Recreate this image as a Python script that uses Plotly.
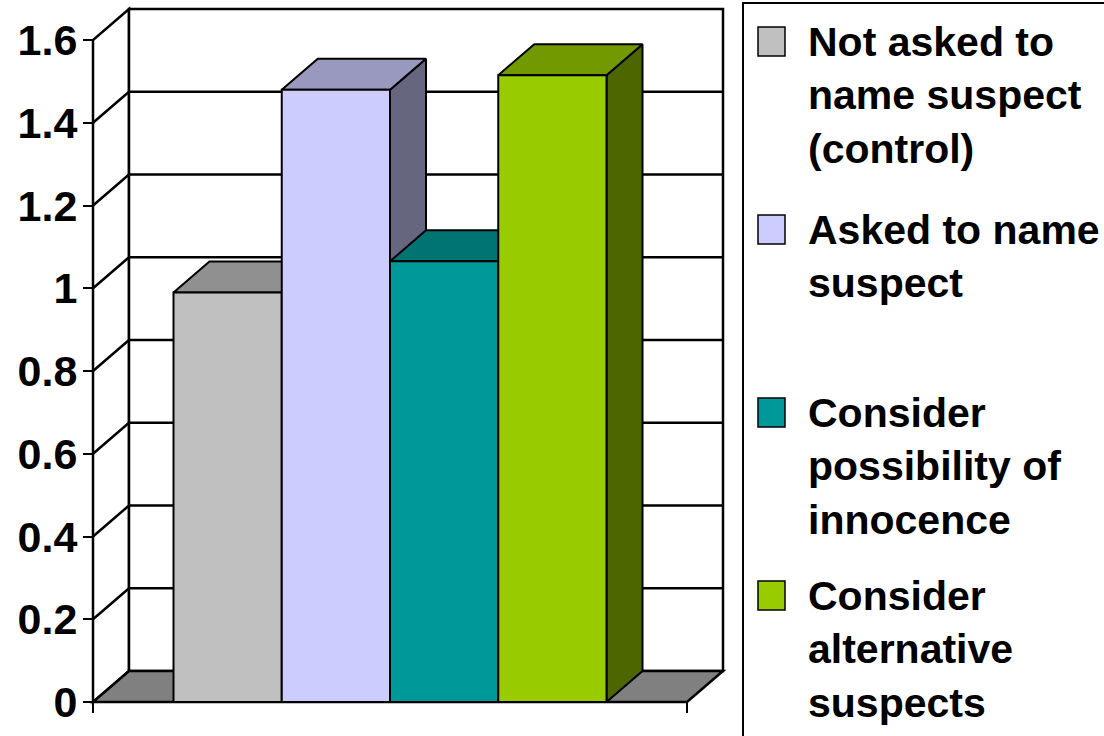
import plotly.graph_objects as go

# ---------------- data ----------------
series_names = [
    "Not asked to name suspect (control)",
    "Asked to name suspect",
    "Consider possibility of innocence",
    "Consider alternative suspects",
]
legend_labels = [
    "Not asked to<br>name suspect<br>(control)",
    "Asked to name<br>suspect",
    "Consider<br>possibility of<br>innocence",
    "Consider<br>alternative<br>suspects",
]
values = [0.99, 1.48, 1.065, 1.515]
tick_vals = [0, 0.2, 0.4, 0.6, 0.8, 1.0, 1.2, 1.4, 1.6]
tick_text = ["0", "0.2", "0.4", "0.6", "0.8", "1", "1.2", "1.4", "1.6"]

front_colors = ["#C0C0C0", "#CCCCFF", "#009999", "#99CC00"]
top_colors = ["#909090", "#9999BF", "#007373", "#739900"]
side_colors = ["#606060", "#666680", "#004D4D", "#4D6600"]

# ---------------- layout geometry ----------------
W, H = 1104, 736
ML, MR, MT, MB = 78, 370, 0, 20
PW, PH = W - ML - MR, H - MT - MB
SX = 594.0      # px per category unit (front plane)
SY = 413.75     # px per value unit
FX, FY = 93, 702  # pixel of front-left corner (x=-0.5, y=0)
DX = 36 / SX    # depth offset in x units
DY = 31 / SY    # depth offset in y units
YMAX = tick_vals[-1]

x_range = [-0.5 - (FX - ML) / SX, -0.5 + (ML + PW - FX) / SX]
y_range = [-(MT + PH - FY) / SY, (FY - MT) / SY]


def px(xp):
    return (xp - ML) / PW


def py(yp):
    return (MT + PH - yp) / PH


LINE = dict(color="black", width=2.5)

shapes = []
# left side wall
shapes.append(dict(type="path", xref="x", yref="y", layer="below",
                   path=f"M {-0.5},{0} L {-0.5+DX},{DY} L {-0.5+DX},{YMAX+DY} L {-0.5},{YMAX} Z",
                   fillcolor="white", line=LINE))
# back wall
shapes.append(dict(type="rect", xref="x", yref="y", layer="below",
                   x0=-0.5 + DX, y0=DY, x1=0.5 + DX, y1=YMAX + DY,
                   fillcolor="white", line=LINE))
# gridlines
for v in tick_vals[1:-1]:
    shapes.append(dict(type="path", xref="x", yref="y", layer="below",
                       path=f"M {-0.5},{v} L {-0.5+DX},{v+DY} L {0.5+DX},{v+DY}",
                       line=LINE))
# floor
shapes.append(dict(type="path", xref="x", yref="y", layer="below",
                   path=f"M {-0.5},{0} L {0.5},{0} L {0.5+DX},{DY} L {-0.5+DX},{DY} Z",
                   fillcolor="#808080", line=LINE))

fig = go.Figure()

# bars (front, top, side faces), drawn left to right
n = len(values)
BW = 108.25 / SX
for i, v in enumerate(values):
    xl = -n * BW / 2 + i * BW
    xr = xl + BW
    faces = [
        ([xr, xr + DX, xr + DX, xr, xr], [0, DY, v + DY, v, 0], side_colors[i]),
        ([xl, xr, xr + DX, xl + DX, xl], [v, v, v + DY, v + DY, v], top_colors[i]),
        ([xl, xr, xr, xl, xl], [0, 0, v, v, 0], front_colors[i]),
    ]
    for fx, fy, col in faces:
        fig.add_trace(go.Scatter(
            x=fx, y=fy, mode="lines", fill="toself", fillcolor=col,
            line=dict(color="black", width=2), name=series_names[i],
            hoverinfo="text", text=f"{series_names[i]}: {v}", showlegend=False))

# legend (manual)
shapes.append(dict(type="rect", xref="paper", yref="paper",
                   x0=px(743), x1=px(1112), y0=py(3), y1=py(745),
                   line=dict(color="black", width=2), fillcolor="rgba(0,0,0,0)"))
cap_tops = [26, 214, 397, 580]
annotations = []
for i, lab in enumerate(legend_labels):
    ct = cap_tops[i]
    shapes.append(dict(type="rect", xref="paper", yref="paper",
                       x0=px(758), x1=px(785), y0=py(ct + 1), y1=py(ct + 30),
                       fillcolor=front_colors[i], line=dict(color="black", width=1.5)))
    annotations.append(dict(xref="paper", yref="paper", x=px(806), y=py(ct - 9),
                            xanchor="left", yanchor="top", align="left",
                            text=lab, showarrow=False,
                            font=dict(family="Liberation Sans, Arial", size=41,
                                      color="black", weight="bold")))

fig.update_layout(
    width=W, height=H,
    margin=dict(l=ML, r=MR, t=MT, b=MB),
    paper_bgcolor="white", plot_bgcolor="white",
    showlegend=False,
    shapes=shapes,
    annotations=annotations,
    xaxis=dict(range=x_range, showgrid=False, zeroline=False, showline=False,
               tickvals=[-0.5, 0.5], ticks="outside", ticklen=10, tickwidth=2,
               tickcolor="black", showticklabels=False,
               anchor="free", position=(MT + PH - FY) / PH),
    yaxis=dict(range=y_range, showgrid=False, zeroline=False, showline=False,
               tickvals=tick_vals, ticktext=tick_text, ticks="outside",
               ticklen=10, tickwidth=2, tickcolor="black",
               ticklabelstandoff=-3,
               tickfont=dict(family="Liberation Sans, Arial",
                             size=43, color="black", weight="bold"),
               anchor="free", position=(FX - ML) / PW),
)

fig.write_html("out.html")
